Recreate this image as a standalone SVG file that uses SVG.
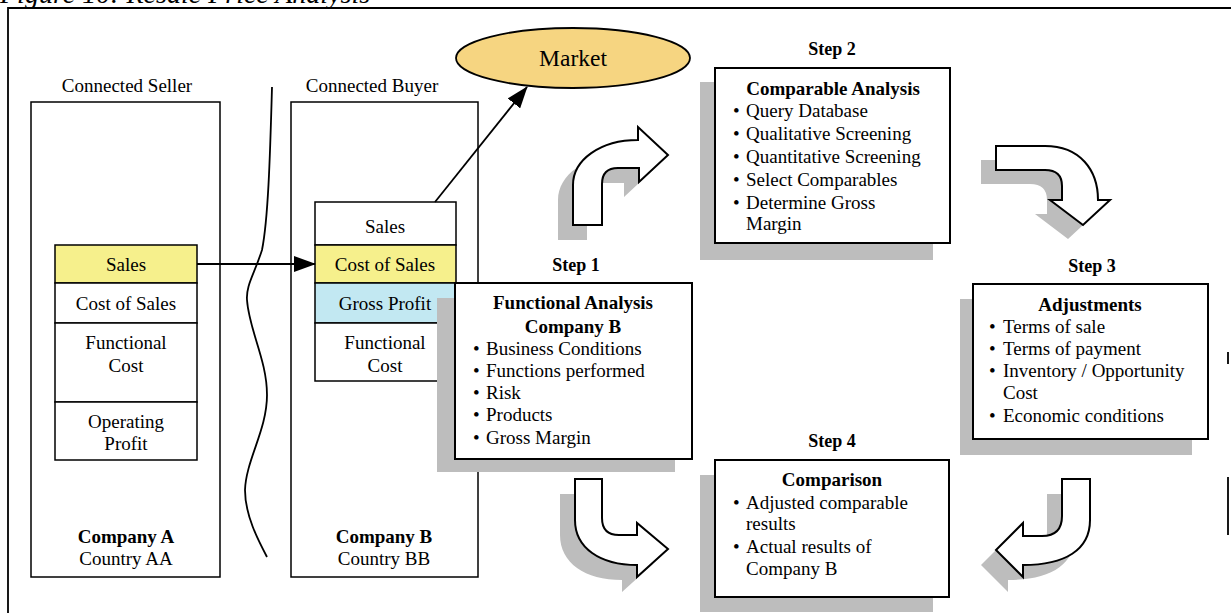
<svg xmlns="http://www.w3.org/2000/svg" width="1231" height="613" viewBox="0 0 1231 613">
<defs>
<style>
.t{font-family:"Liberation Serif","Times New Roman",serif;font-size:19px;fill:#000}
.c{text-anchor:middle}
.b{font-weight:bold}
.s{font-size:18px}
.box{fill:#fff;stroke:#000;stroke-width:2}
.sh{fill:#bdbdbd}
.cell{stroke:#000;stroke-width:1.5}
.cont{fill:none;stroke:#000;stroke-width:1.5}
.blk{fill:#fff;stroke:#000;stroke-width:2;stroke-linejoin:miter}
.ln{fill:none;stroke:#000;stroke-width:1.8}
</style>
<marker id="ah" markerWidth="22" markerHeight="16" refX="21" refY="8" orient="auto" markerUnits="userSpaceOnUse">
<path d="M0,0 L22,8 L0,16 Z" fill="#000"/>
</marker>
</defs>
<rect width="1231" height="613" fill="#fff"/>
<text class="t" x="0" y="3" style="font-style:italic;font-size:28px">Figure 10: Resale Price Analysis</text>
<path d="M8,613 L8,8 L1231,8 M1228,352 L1228,364 M1228,477 L1228,535" class="ln" stroke-width="1.5"/>

<g id="companyA">
<text class="t c" x="127" y="92">Connected Seller</text>
<rect class="cont" x="31" y="102" width="189" height="475"/>
<rect class="cell" x="55" y="245" width="142" height="38" fill="#f6f08c"/>
<rect class="cell" x="55" y="283" width="142" height="40" fill="#fff"/>
<rect class="cell" x="55" y="323" width="142" height="79" fill="#fff"/>
<rect class="cell" x="55" y="402" width="142" height="58" fill="#fff"/>
<text class="t c" x="126" y="271">Sales</text>
<text class="t c" x="126" y="310">Cost of Sales</text>
<text class="t c" x="126" y="349">Functional</text>
<text class="t c" x="126" y="372">Cost</text>
<text class="t c" x="126" y="428">Operating</text>
<text class="t c" x="126" y="450">Profit</text>
<text class="t c b" x="126" y="543">Company A</text>
<text class="t c" x="126" y="565">Country AA</text>
</g>

<g id="border">
<path class="ln" d="M272,87 C270,160 268,220 262,250 C254,275 246,285 247,300 C249,330 267,360 267,395 C267,430 246,460 245,490 C245,515 258,540 267,557" stroke-width="1.5"/>
</g>

<g id="companyB">
<text class="t c" x="372" y="92">Connected Buyer</text>
<rect class="cont" x="291" y="102" width="187" height="475"/>
<rect class="cell" x="315" y="202" width="141" height="43" fill="#fff"/>
<rect class="cell" x="315" y="245" width="141" height="38" fill="#f6f08c"/>
<rect class="cell" x="315" y="283" width="141" height="40" fill="#c2e8f2"/>
<rect class="cell" x="315" y="323" width="141" height="58" fill="#fff"/>
<text class="t c" x="385" y="233">Sales</text>
<text class="t c" x="385" y="271">Cost of Sales</text>
<text class="t c" x="385" y="310">Gross Profit</text>
<text class="t c" x="385" y="349">Functional</text>
<text class="t c" x="385" y="372">Cost</text>
<text class="t c b" x="384" y="543">Company B</text>
<text class="t c" x="384" y="565">Country BB</text>
</g>

<g id="market">
<ellipse cx="573" cy="58" rx="117" ry="30" fill="#f6d581" stroke="#000" stroke-width="1.8"/>
<text class="t c" x="573" y="66" style="font-size:23.5px">Market</text>
</g>

<g id="connectors">
<line class="ln" x1="197" y1="264" x2="315" y2="264" marker-end="url(#ah)"/>
<line class="ln" x1="435" y1="202" x2="527" y2="87" marker-end="url(#ah)"/>
</g>

<g id="step1">
<text class="t c b s" x="576" y="271">Step 1</text>
<rect class="sh" x="437" y="298" width="238" height="174"/>
<rect class="box" x="455" y="283" width="237" height="176"/>
<text class="t c b" x="573" y="309">Functional Analysis</text>
<text class="t c b" x="573" y="333">Company B</text>
<text class="t" x="473" y="355">•</text><text class="t" x="486" y="355">Business Conditions</text>
<text class="t" x="473" y="377">•</text><text class="t" x="486" y="377">Functions performed</text>
<text class="t" x="473" y="399">•</text><text class="t" x="486" y="399">Risk</text>
<text class="t" x="473" y="421">•</text><text class="t" x="486" y="421">Products</text>
<text class="t" x="473" y="444">•</text><text class="t" x="486" y="444">Gross Margin</text>
</g>

<g id="step2">
<text class="t c b s" x="832" y="55">Step 2</text>
<rect class="sh" x="700" y="82" width="233" height="178"/>
<rect class="box" x="715" y="68" width="235" height="175"/>
<text class="t c b" x="833" y="95">Comparable Analysis</text>
<text class="t" x="733" y="117">•</text><text class="t" x="746" y="117">Query Database</text>
<text class="t" x="733" y="140">•</text><text class="t" x="746" y="140">Qualitative Screening</text>
<text class="t" x="733" y="163">•</text><text class="t" x="746" y="163">Quantitative Screening</text>
<text class="t" x="733" y="186">•</text><text class="t" x="746" y="186">Select Comparables</text>
<text class="t" x="733" y="209">•</text><text class="t" x="746" y="209">Determine Gross</text>
<text class="t" x="746" y="230">Margin</text>
</g>

<g id="step3">
<text class="t c b s" x="1092" y="272">Step 3</text>
<rect class="sh" x="960" y="299" width="232" height="156"/>
<rect class="box" x="973" y="284" width="235" height="155"/>
<text class="t c b" x="1090" y="311">Adjustments</text>
<text class="t" x="989" y="333">•</text><text class="t" x="1003" y="333">Terms of sale</text>
<text class="t" x="989" y="355">•</text><text class="t" x="1003" y="355">Terms of payment</text>
<text class="t" x="989" y="377">•</text><text class="t" x="1003" y="377">Inventory / Opportunity</text>
<text class="t" x="1003" y="399">Cost</text>
<text class="t" x="989" y="422">•</text><text class="t" x="1003" y="422">Economic conditions</text>
</g>

<g id="step4">
<text class="t c b s" x="832" y="447">Step 4</text>
<rect class="sh" x="700" y="475" width="233" height="137"/>
<rect class="box" x="715" y="460" width="234" height="137"/>
<text class="t c b" x="832" y="486">Comparison</text>
<text class="t" x="733" y="509">•</text><text class="t" x="746" y="509">Adjusted comparable</text>
<text class="t" x="746" y="530">results</text>
<text class="t" x="733" y="553">•</text><text class="t" x="746" y="553">Actual results of</text>
<text class="t" x="746" y="575">Company B</text>
</g>

<g id="flow-arrows">
<g id="arrow12">
<path class="sh" transform="translate(-15,15)" d="M573,225 L573,185 C573,160 600,140 638,140 L638,127 L668,155 L639,182 L639,168 L618,168 Q602,168 602,184 L602,225 Z"/>
<path class="blk" d="M573,225 L573,185 C573,160 600,140 638,140 L638,127 L668,155 L639,182 L639,168 L618,168 Q602,168 602,184 L602,225 Z"/>
</g>
<g id="arrow23">
<path class="sh" transform="translate(-15,14)" d="M996,146 L1045,146 C1080,146 1098,170 1098,200 L1110,200 L1083,225 L1050,200 L1062,200 L1062,186 Q1062,170 1045,170 L996,170 Z"/>
<path class="blk" d="M996,146 L1045,146 C1080,146 1098,170 1098,200 L1110,200 L1083,225 L1050,200 L1062,200 L1062,186 Q1062,170 1045,170 L996,170 Z"/>
</g>
<g id="arrow14">
<path class="sh" transform="translate(-15,15)" d="M575,479 L602,479 L602,518 Q602,535 619,535 L637,535 L637,523 L668,549 L637,577 L637,565 C600,565 575,548 575,520 Z"/>
<path class="blk" d="M575,479 L602,479 L602,518 Q602,535 619,535 L637,535 L637,523 L668,549 L637,577 L637,565 C600,565 575,548 575,520 Z"/>
</g>
<g id="arrow34">
<path class="sh" transform="translate(-15,15)" d="M1062,479 L1090,479 L1090,520 C1090,550 1065,565 1023,565 L1023,577 L996,550 L1023,523 L1023,536 L1042,536 Q1062,536 1062,516 Z"/>
<path class="blk" d="M1062,479 L1090,479 L1090,520 C1090,550 1065,565 1023,565 L1023,577 L996,550 L1023,523 L1023,536 L1042,536 Q1062,536 1062,516 Z"/>
</g>
</g>
</svg>
